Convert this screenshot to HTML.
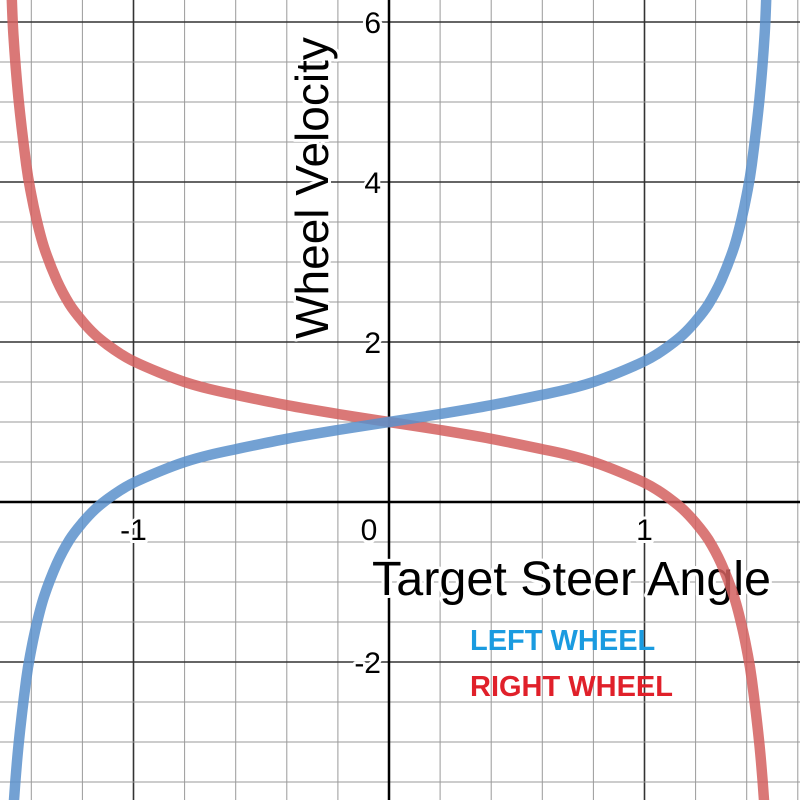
<!DOCTYPE html>
<html><head><meta charset="utf-8"><style>
html,body{margin:0;padding:0;background:#fff;overflow:hidden;width:800px;height:800px}
svg{display:block}
text{font-family:"Liberation Sans",Arial,sans-serif}
.tick{font-size:30px;fill:#000;paint-order:stroke;stroke:#fff;stroke-width:6px;stroke-linejoin:round}
</style></head><body>
<svg id="chart" width="800" height="800" viewBox="0 0 800 800">
<g id="grid"></g>
<g id="axes"></g>
<g id="labels"></g>
<text x="328" y="188" text-anchor="middle" transform="rotate(-90 328 188)" class="tick" style="font-size:46px">Wheel Velocity</text>
<text x="372" y="595" class="tick" style="font-size:48.5px">Target Steer Angle</text>
<g id="series"></g>
<text x="470" y="650" font-size="29" font-weight="bold" fill="#1a9be0">LEFT WHEEL</text>
<text x="470" y="696" font-size="29" font-weight="bold" fill="#e0202a">RIGHT WHEEL</text>
</svg>
<script>
const xValues = [-1.5,-1.48,-1.47,-1.45,-1.42,-1.4,-1.38,-1.35,-1.3,-1.25,-1.2,-1.15,-1.1,-1.05,-1.0,-0.9,-0.8,-0.7,-0.6,-0.4,-0.2,0,0.2,0.4,0.6,0.7,0.8,0.9,1.0,1.05,1.1,1.15,1.2,1.25,1.3,1.35,1.38,1.4,1.42,1.45,1.47,1.48,1.5];
const leftWheel = [-5.91,-4.58,-3.84,-3.04,-2.22,-1.84,-1.54,-1.18,-0.77,-0.47,-0.26,-0.09,0.04,0.15,0.24,0.38,0.50,0.59,0.66,0.79,0.90,1.0,1.10,1.21,1.34,1.41,1.50,1.62,1.76,1.85,1.96,2.09,2.26,2.47,2.77,3.18,3.54,3.84,4.22,5.04,5.84,6.58,7.91];
const rightWheel = [7.91,6.58,5.84,5.04,4.22,3.84,3.54,3.18,2.77,2.47,2.26,2.09,1.96,1.85,1.76,1.62,1.50,1.41,1.34,1.21,1.10,1.0,0.90,0.79,0.66,0.59,0.50,0.38,0.24,0.15,0.04,-0.09,-0.26,-0.47,-0.77,-1.18,-1.54,-1.84,-2.22,-3.04,-3.84,-4.58,-5.91];
const xTicks = [-1,0,1];
const xTickLabels = ["-1","0","1"];
const yTicks = [-2,2,4,6];
const yTickLabels = ["-2","2","4","6"];

const NS="http://www.w3.org/2000/svg";
const X = v => 389 + v*255.5;
const Y = v => 502 - v*80;
function mk(tag, parent, attrs){const e=document.createElementNS(NS,tag);for(const k in attrs)e.setAttribute(k,attrs[k]);parent.appendChild(e);return e;}
const grid=document.getElementById('grid');
for(let i=-8;i<=8;i++){
  const v=i*0.2, major=(i%5===0);
  const l=mk('line',grid,{x1:X(v),x2:X(v),y1:0,y2:800,stroke:major?'#333':'#9a9a9a','stroke-width':major?1.6:1});
  
  
}
for(let i=-8;i<=14;i++){
  const v=i*0.5, major=(i%4===0);
  const l=mk('line',grid,{x1:0,x2:800,y1:Y(v),y2:Y(v),stroke:major?'#333':'#9a9a9a','stroke-width':major?1.6:1});
  
  
}
const axes=document.getElementById('axes');
const xa=mk('line',axes,{x1:0,x2:800,y1:Y(0),y2:Y(0),stroke:'#000','stroke-width':2.5});


const ya=mk('line',axes,{x1:X(0),x2:X(0),y1:0,y2:800,stroke:'#000','stroke-width':2.5});


const series=document.getElementById('series');
function path(vals,color,name){
  const pts=xValues.map((x,i)=>[X(x),Y(vals[i])]);
  let d='M'+pts[0][0].toFixed(1)+','+pts[0][1].toFixed(1);
  for(let i=0;i<pts.length-1;i++){
    const p0=pts[Math.max(0,i-1)],p1=pts[i],p2=pts[i+1],p3=pts[Math.min(pts.length-1,i+2)];
    const c1=[p1[0]+(p2[0]-p0[0])/6,p1[1]+(p2[1]-p0[1])/6];
    const c2=[p2[0]-(p3[0]-p1[0])/6,p2[1]-(p3[1]-p1[1])/6];
    d+=' C'+c1.map(n=>n.toFixed(1)).join(',')+' '+c2.map(n=>n.toFixed(1)).join(',')+' '+p2.map(n=>n.toFixed(1)).join(',');
  }
  const p=mk('path',series,{d:d,fill:'none',stroke:color,'stroke-width':10.5,'stroke-opacity':0.85,'stroke-linejoin':'round'});
  
  
}
path(rightWheel,'#d4605f','right-wheel-line');
path(leftWheel,'#5a91cb','left-wheel-line');
const labels=document.getElementById('labels');
xTicks.forEach((v,i)=>{
  const t=mk('text',labels,{x:v===0?X(v)-20:X(v),y:540,'text-anchor':'middle',class:'tick'});
  t.textContent=xTickLabels[i];
  
  
});
yTicks.forEach((v,i)=>{
  const t=mk('text',labels,{x:X(0)-8,y:Y(v)+11,'text-anchor':'end',class:'tick'});
  t.textContent=yTickLabels[i];
  
  
});
</script>
</body></html>
